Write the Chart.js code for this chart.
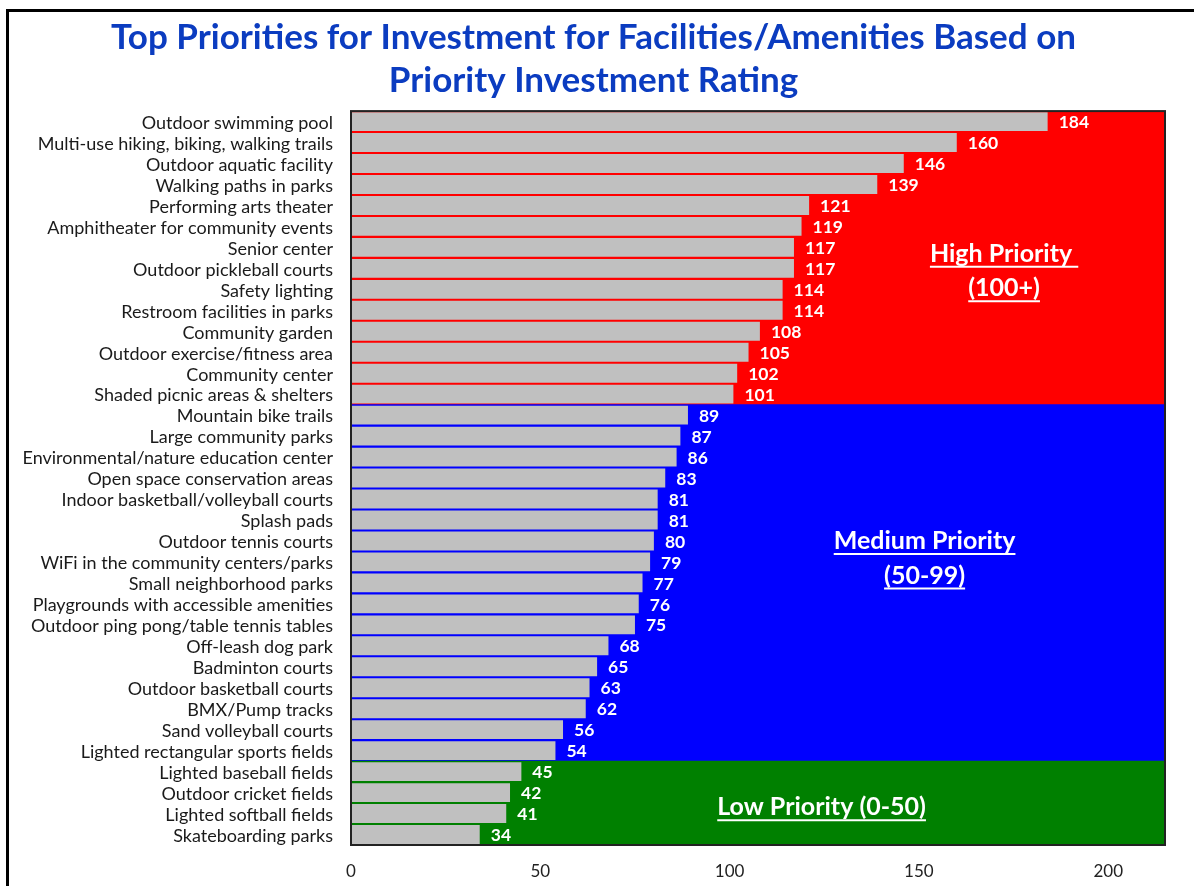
<!DOCTYPE html>
<html>
<head>
<meta charset="utf-8">
<script src="https://cdn.jsdelivr.net/npm/chart.js@4/dist/chart.umd.min.js"></script>
<style>
  html, body { margin: 0; padding: 0; background: #fff; overflow: hidden; }
  #wrap { position: relative; width: 1194px; height: 886px; }
  #frame { position: absolute; left: 6px; top: 9px; width: 1400px; height: 1000px;
           border-top: 3px solid #000; border-left: 3px solid #000; pointer-events: none; }
</style>
</head>
<body>
<div id="wrap">
  <canvas id="priorityChart" width="1194" height="886"></canvas>
  <div id="frame"></div>
</div>
<script>
const titleLines = [
  "Top Priorities for Investment for Facilities/Amenities Based on",
  "Priority Investment Rating"
];

const facilities = [
  "Outdoor swimming pool",
  "Multi-use hiking, biking, walking trails",
  "Outdoor aquatic facility",
  "Walking paths in parks",
  "Performing arts theater",
  "Amphitheater for community events",
  "Senior center",
  "Outdoor pickleball courts",
  "Safety lighting",
  "Restroom facilities in parks",
  "Community garden",
  "Outdoor exercise/fitness area",
  "Community center",
  "Shaded picnic areas & shelters",
  "Mountain bike trails",
  "Large community parks",
  "Environmental/nature education center",
  "Open space conservation areas",
  "Indoor basketball/volleyball courts",
  "Splash pads",
  "Outdoor tennis courts",
  "WiFi in the community centers/parks",
  "Small neighborhood parks",
  "Playgrounds with accessible amenities",
  "Outdoor ping pong/table tennis tables",
  "Off-leash dog park",
  "Badminton courts",
  "Outdoor basketball courts",
  "BMX/Pump tracks",
  "Sand volleyball courts",
  "Lighted rectangular sports fields",
  "Lighted baseball fields",
  "Outdoor cricket fields",
  "Lighted softball fields",
  "Skateboarding parks"
];

const ratings = [184, 160, 146, 139, 121, 119, 117, 117, 114, 114, 108, 105, 102, 101,
  89, 87, 86, 83, 81, 81, 80, 79, 77, 76, 75, 68, 65, 63, 62, 56, 54,
  45, 42, 41, 34];

const xTicks = [0, 50, 100, 150, 200];
const axisMax = 215;

// band colour by rating
const bandColor = v => v >= 100 ? "#ff0000" : (v >= 50 ? "#0000ff" : "#008000");

// band labels, placed in value / category units
const bandLabels = [
  { text: "High Priority ", x: 172.5, row: 6.3 },
  { text: "(100+)", x: 172.5, row: 7.95 },
  { text: "Medium Priority", x: 151.5, row: 20.0 },
  { text: "(50-99)", x: 151.5, row: 21.65 },
  { text: "Low Priority (0-50)", x: 124.3, row: 32.7 }
];

const FONT = "Lato, Carlito, 'Noto Sans', sans-serif";

const valueLabels = {
  id: "valueLabels",
  afterDatasetsDraw(chart) {
    const ctx = chart.ctx;
    const meta = chart.getDatasetMeta(0);
    ctx.save();
    ctx.fillStyle = "#fff";
    ctx.font = "bold 17.5px " + FONT;
    ctx.textAlign = "left";
    ctx.textBaseline = "middle";
    meta.data.forEach((bar, i) => {
      ctx.fillText(String(ratings[i]), bar.x + 11, bar.y + 1);
    });
    ctx.restore();
  }
};

const bandText = {
  id: "bandText",
  afterDatasetsDraw(chart) {
    const ctx = chart.ctx;
    const xs = chart.scales.x, ys = chart.scales.y;
    ctx.save();
    ctx.fillStyle = "#fff";
    ctx.strokeStyle = "#fff";
    ctx.lineWidth = 2;
    ctx.font = "bold 25px " + FONT;
    ctx.textAlign = "center";
    ctx.textBaseline = "middle";
    bandLabels.forEach(l => {
      const px = xs.getPixelForValue(l.x);
      const py = ys.getPixelForValue(l.row);
      ctx.fillText(l.text, px, py);
      const w = ctx.measureText(l.text).width;
      ctx.beginPath();
      ctx.moveTo(px - w / 2, py + 13);
      ctx.lineTo(px + w / 2, py + 13);
      ctx.stroke();
    });
    ctx.restore();
  }
};

const plotFrame = {
  id: "plotFrame",
  afterDraw(chart) {
    const a = chart.chartArea, ctx = chart.ctx;
    ctx.save();
    ctx.strokeStyle = "#222";
    ctx.lineWidth = 2;
    ctx.strokeRect(a.left, a.top, a.right - a.left, a.bottom - a.top);
    ctx.restore();
  }
};

new Chart(document.getElementById("priorityChart"), {
  type: "bar",
  data: {
    labels: facilities,
    datasets: [
      {
        label: "Priority Investment Rating",
        data: ratings,
        backgroundColor: "#c0c0c0",
        borderWidth: 0,
        barPercentage: 0.9,
        categoryPercentage: 1,
        grouped: false,
        order: 1
      },
      {
        label: "band",
        data: ratings.map(() => axisMax),
        backgroundColor: ratings.map(bandColor),
        borderWidth: 0,
        barPercentage: 1.04,
        categoryPercentage: 1,
        grouped: false,
        order: 2
      }
    ]
  },
  options: {
    indexAxis: "y",
    responsive: false,
    animation: false,
    layout: { padding: { left: 22, right: 29, top: 0, bottom: 0 } },
    plugins: {
      legend: { display: false },
      tooltip: { enabled: false },
      title: {
        display: true,
        text: titleLines,
        color: "#0b3cc0",
        font: { family: FONT, size: 35, weight: "bold", lineHeight: 1.23 },
        padding: { top: 16, bottom: 9 }
      }
    },
    scales: {
      x: {
        min: 0,
        max: axisMax,
        grid: { display: false, drawTicks: false },
        border: { display: false },
        ticks: {
          stepSize: 50,
          includeBounds: false,
          padding: 16,
          color: "#222",
          font: { family: FONT, size: 17 },
          callback: v => xTicks.includes(v) ? String(v) : ""
        },
        afterFit: s => { s.height = 41; }
      },
      y: {
        grid: { display: false, drawTicks: false },
        border: { display: false },
        ticks: {
          autoSkip: false,
          padding: 18,
          labelOffset: 1.5,
          color: "#1a1a1a",
          font: { family: FONT, size: 18 }
        },
        afterFit: s => { s.width = 329; }
      }
    }
  },
  plugins: [valueLabels, bandText, plotFrame]
});
</script>
</body>
</html>
